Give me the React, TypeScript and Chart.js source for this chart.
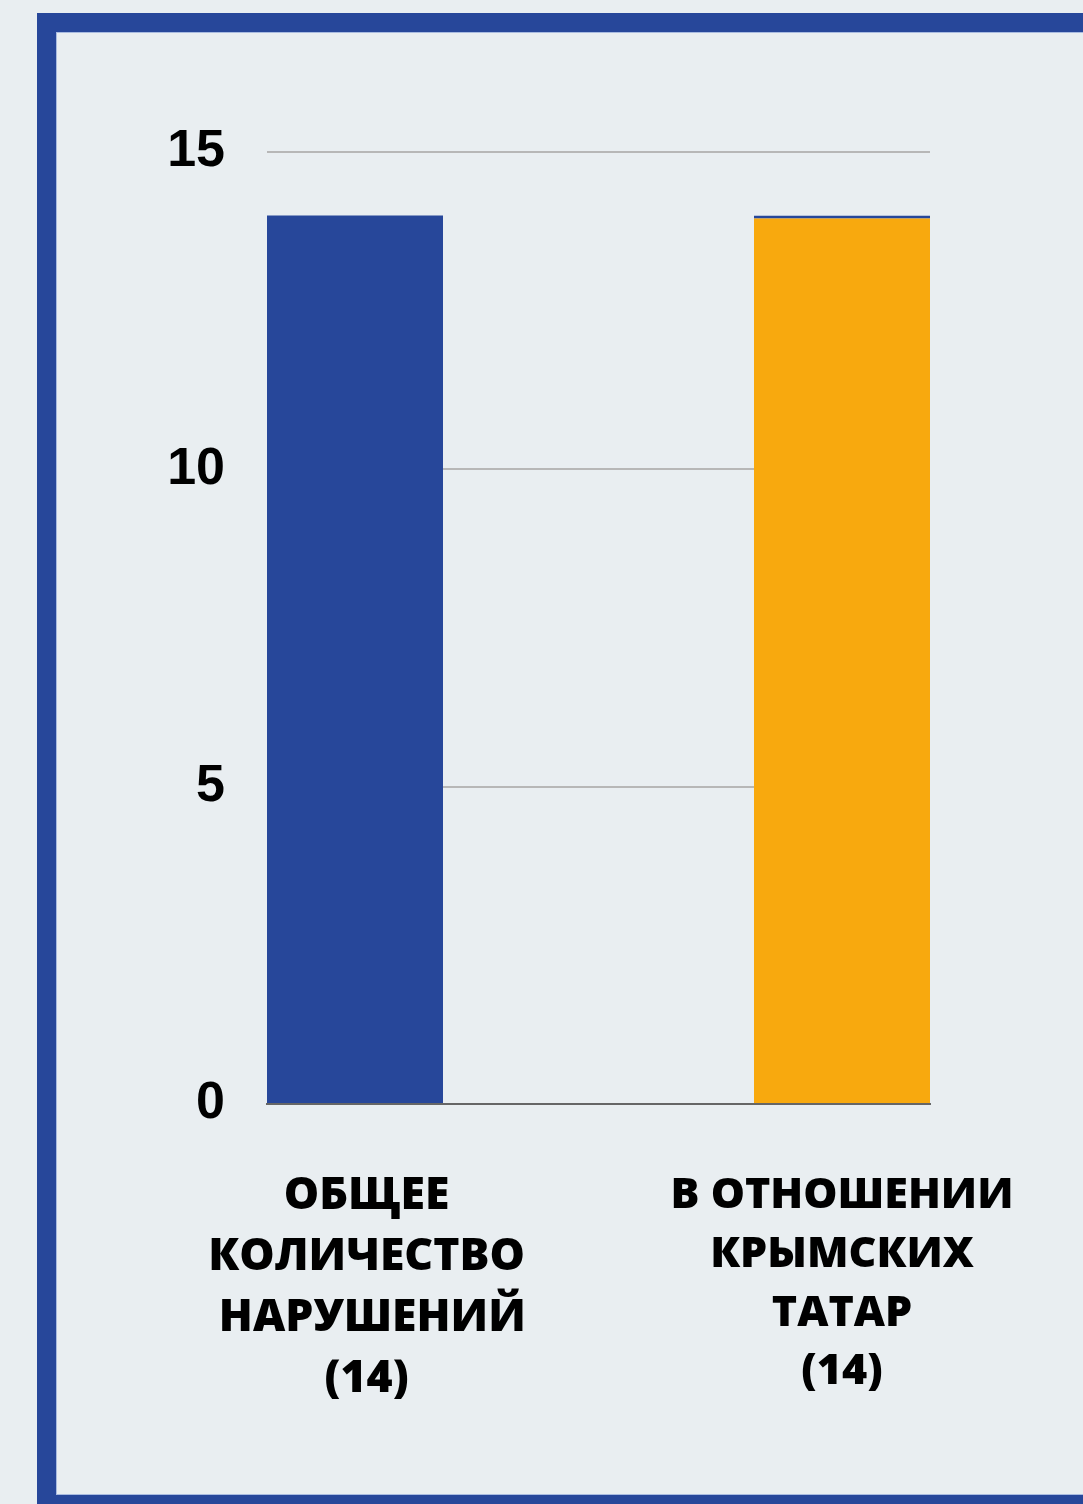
import React, { useEffect, useRef } from "react";
import { Chart, registerables } from "chart.js";

Chart.register(...registerables);

const categories: string[][] = [
  ["  ОБЩЕЕ", "  КОЛИЧЕСТВО", "   НАРУШЕНИЙ", "  (14)"],
  ["В ОТНОШЕНИИ", "КРЫМСКИХ", "ТАТАР", "(14)"],
];
const positions: number[] = [0, 1];
const values: number[] = [14, 14];
const barColors: string[] = ["#27479a", "#f8a90e"];
const yTicks: number[] = [0, 5, 10, 15];

export default function App() {
  const ref = useRef<HTMLCanvasElement | null>(null);

  useEffect(() => {
    document.body.style.margin = "0";
    document.body.style.background = "#e9eef1";
    const canvas = ref.current;
    if (!canvas) return;
    const chart = new Chart(canvas, {
      type: "bar",
      data: {
        datasets: [
          {
            data: positions.map((x, i) => ({ x, y: values[i] })),
            backgroundColor: barColors,
            borderColor: "#27479a",
            borderWidth: (ctx: any) =>
              ctx.dataIndex === 1 ? { top: 3, left: 0, right: 0, bottom: 0 } : 0,
            borderSkipped: "bottom",
            categoryPercentage: 1,
            barPercentage: 0.3614,
          },
        ],
      },
      options: {
        responsive: false,
        animation: false,
        devicePixelRatio: 1,
        layout: { padding: { left: 0, top: 152, right: 153, bottom: 0 } },
        plugins: {
          legend: { display: false },
          tooltip: { enabled: false },
        },
        scales: {
          x: {
            type: "linear",
            offset: false,
            min: -0.1807,
            max: 1.1807,
            grid: { display: false, drawTicks: false, offset: false },
            border: { display: true, color: "#666666", width: 2 },
            afterBuildTicks: (scale: any) => {
              scale.ticks = positions.map((v) => ({ value: v }));
            },
            afterFit: (scale: any) => {
              scale.height = 400;
              scale.paddingLeft = 0;
              scale.paddingRight = 0;
            },
            ticks: {
              autoSkip: false,
              maxRotation: 0,
              minRotation: 0,
              padding: 62,
              color: "#000000",
              font: (ctx: any) => ({
                family: "'Open Sans'",
                size: ctx.index === 0 ? 44.5 : 43,
                weight: 800,
                lineHeight: 1.37,
              }),
              callback: (value: any) => {
                const i = positions.indexOf(Number(value));
                return i >= 0 ? categories[i] : "";
              },
            },
          },
          y: {
            min: 0,
            max: 15,
            afterBuildTicks: (scale: any) => {
              scale.ticks = yTicks.map((v) => ({ value: v }));
            },
            afterFit: (scale: any) => {
              scale.width = 267;
            },
            grid: { color: "#b7b7b7", lineWidth: 2, drawTicks: false },
            border: { display: false },
            ticks: {
              padding: 42,
              color: "#000000",
              font: { family: "'Liberation Sans', Arial, sans-serif", size: 52, weight: "bold" },
            },
          },
        },
      },
    } as any);
    return () => chart.destroy();
  }, []);

  return (
    <div
      style={{
        position: "absolute",
        left: 0,
        top: 0,
        width: 1083,
        height: 1504,
        overflow: "hidden",
        background: "#e9eef1",
      }}
    >
      <div
        style={{
          position: "absolute",
          left: 37,
          top: 13,
          width: 1100,
          height: 1501,
          boxSizing: "border-box",
          border: "19px solid #27479a",
          boxShadow: "inset 0 0 0 1px #a9bbe0",
        }}
      />
      <canvas
        ref={ref}
        width={1083}
        height={1504}
        style={{ position: "absolute", left: 0, top: 0, width: 1083, height: 1504 }}
      />
    </div>
  );
}
